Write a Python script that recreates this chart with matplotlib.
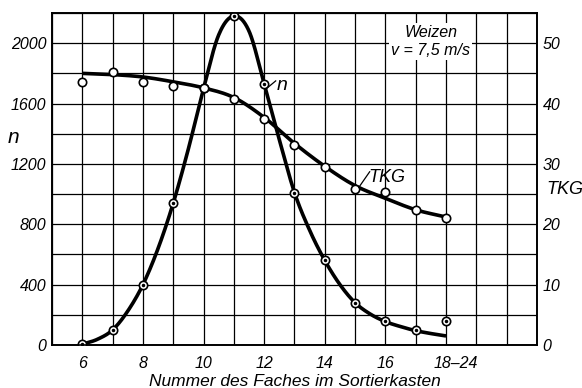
import numpy as np
import matplotlib
matplotlib.use("Agg")
import matplotlib.pyplot as plt
import matplotlib.transforms as mtransforms
from matplotlib.ticker import FixedLocator, MultipleLocator

plt.rcParams['font.family'] = ['Liberation Sans', 'DejaVu Sans']
plt.rcParams['font.style'] = 'italic'

# measured points
fach = [6, 7, 8, 9, 10, 11, 12, 13, 14, 15, 16, 17, 18]
n_pts = [10, 100, 400, 940, 1700, 2180, 1730, 1010, 560, 280, 160, 100, 160]
tkg_pts = [43.6, 45.2, 43.6, 42.9, 42.6, 40.7, 37.4, 33.2, 29.5, 25.8, 25.4, 22.4, 21.1]

# drawn (faired) curves
n_curve_x = [6, 6.5, 7, 7.5, 8, 8.5, 9, 9.5, 10, 10.5, 11, 11.5, 12,
             12.5, 13, 13.5, 14, 14.5, 15, 15.5, 16, 16.5, 17, 17.5, 18]
n_curve = [5, 38, 100, 225, 400, 640, 940, 1300, 1700, 2055, 2180, 2080, 1730,
           1360, 1010, 760, 560, 400, 280, 205, 155, 122, 95, 76, 60]
tkg_curve_x = [6, 7, 8, 9, 10, 11, 12, 13, 14, 15, 16, 17, 18]
tkg_curve = [45.0, 44.8, 44.4, 43.6, 42.6, 41.0, 37.7, 33.4, 29.6, 26.4, 24.3, 22.4, 21.2]

xtick_pos = [6, 8, 10, 12, 14, 16, 18]
xtick_lab = ['6', '8', '10', '12', '14', '16', '18\u201324']


def smooth(xs, ys, k=20):
    # catmull-rom through the read values, for drawing only
    xs = np.asarray(xs, float)
    ys = np.asarray(ys, float)
    px = np.concatenate([[2 * xs[0] - xs[1]], xs, [2 * xs[-1] - xs[-2]]])
    py = np.concatenate([[2 * ys[0] - ys[1]], ys, [2 * ys[-1] - ys[-2]]])
    ox, oy = [], []
    t = np.linspace(0, 1, k, endpoint=False)
    for i in range(1, len(px) - 2):
        for p, o in ((px, ox), (py, oy)):
            p0, p1, p2, p3 = p[i - 1], p[i], p[i + 1], p[i + 2]
            o.extend(0.5 * (2 * p1 + (-p0 + p2) * t + (2 * p0 - 5 * p1 + 4 * p2 - p3) * t ** 2
                            + (-p0 + 3 * p1 - 3 * p2 + p3) * t ** 3))
    ox.append(xs[-1])
    oy.append(ys[-1])
    return np.array(ox), np.array(oy)


fig = plt.figure(figsize=(5.82, 3.88), dpi=100)
ax = fig.add_axes([0.0893, 0.1108, 0.8334, 0.8557])
ax2 = ax.twinx()

ax.set_xlim(5, 21)
ax.set_ylim(0, 2200)
ax2.set_ylim(0, 55)

ax.xaxis.set_major_locator(FixedLocator(xtick_pos))
ax.set_xticklabels(xtick_lab)
ax.xaxis.set_minor_locator(MultipleLocator(1))
ax.yaxis.set_major_locator(FixedLocator([0, 400, 800, 1200, 1600, 2000]))
ax.yaxis.set_minor_locator(MultipleLocator(200))
ax2.yaxis.set_major_locator(FixedLocator([0, 10, 20, 30, 40, 50]))

ax.grid(True, which='both', color='black', linewidth=0.9)
ax.tick_params(which='both', length=0, labelsize=11.5)
ax.tick_params(axis='x', pad=8)
ax.tick_params(axis='y', pad=4)
ax2.tick_params(length=0, labelsize=11.5, pad=4)
for a in (ax, ax2):
    for s in a.spines.values():
        s.set_linewidth(1.2)

# shift "18-24" like in the original
lab = ax.get_xticklabels()[-1]
lab.set_transform(lab.get_transform() + mtransforms.ScaledTranslation(0.1, 0, fig.dpi_scale_trans))

# curves
cx, cy = smooth(n_curve_x, n_curve)
ax.plot(cx, cy, color='black', linewidth=2.6, solid_capstyle='butt', zorder=3)
tx, ty = smooth(tkg_curve_x, tkg_curve)
ax2.plot(tx, ty, color='black', linewidth=2.6, solid_capstyle='butt', zorder=3)

ax.plot(fach, n_pts, 'o', ms=6, mfc='white', mec='black', mew=1.2, zorder=4)
ax.plot(fach, n_pts, 'o', ms=1.5, color='black', zorder=5)
ax2.plot(fach, tkg_pts, 'o', ms=6, mfc='white', mec='black', mew=1.2, zorder=4)

# curve labels
ax.plot([12.08, 12.38], [1700, 1750], color='black', linewidth=0.9, zorder=5)
ax.text(12.58, 1720, 'n', fontsize=14, ha='center', va='center', zorder=6)
ax2.plot([15.12, 15.48], [26.1, 28.7], color='black', linewidth=0.9, zorder=5)
ax2.text(16.05, 27.7, 'TKG', fontsize=13, ha='center', va='center', zorder=6)

ax2.text(17.5, 50.3, 'Weizen\nv = 7,5 m/s', fontsize=11.5, ha='center', va='center',
         linespacing=1.2, zorder=6,
         bbox=dict(facecolor='white', edgecolor='none', pad=1.5))

fig.text(0.507, 0.006, 'Nummer des Faches im Sortierkasten', fontsize=12.5,
         ha='center', va='baseline')
fig.text(13 / 582, 1 - 137 / 388, 'n', fontsize=15, ha='center', va='center')
fig.text(565 / 582, 1 - 190 / 388, 'TKG', fontsize=13, ha='center', va='center')

ax2.set_zorder(ax.get_zorder() + 1)
ax2.patch.set_visible(False)

fig.savefig('out.png', dpi=100)
